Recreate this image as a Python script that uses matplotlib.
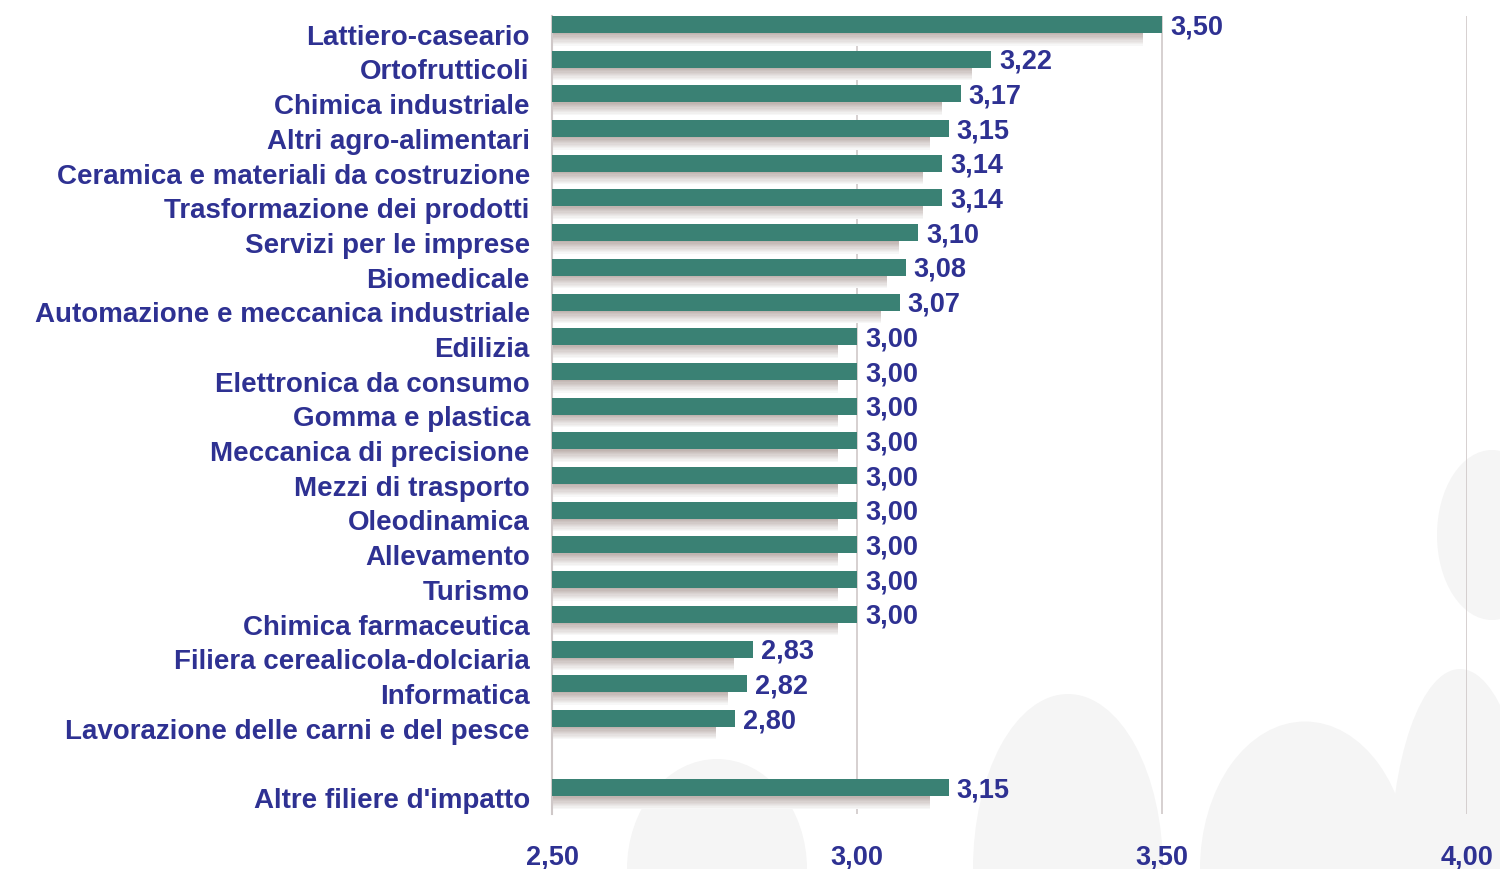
import matplotlib
matplotlib.use("Agg")
import matplotlib.pyplot as plt
from matplotlib.patches import Ellipse
import numpy as np

categories = [
    "Lattiero-caseario", "Ortofrutticoli", "Chimica industriale", "Altri agro-alimentari",
    "Ceramica e materiali da costruzione", "Trasformazione dei prodotti", "Servizi per le imprese",
    "Biomedicale", "Automazione e meccanica industriale", "Edilizia", "Elettronica da consumo",
    "Gomma e plastica", "Meccanica di precisione", "Mezzi di trasporto", "Oleodinamica",
    "Allevamento", "Turismo", "Chimica farmaceutica", "Filiera cerealicola-dolciaria",
    "Informatica", "Lavorazione delle carni e del pesce", "", "Altre filiere d'impatto",
]
values = [3.50, 3.22, 3.17, 3.15, 3.14, 3.14, 3.10, 3.08, 3.07, 3.00, 3.00,
          3.00, 3.00, 3.00, 3.00, 3.00, 3.00, 3.00, 2.83, 2.82, 2.80, None, 3.15]
value_labels = ["3,50", "3,22", "3,17", "3,15", "3,14", "3,14", "3,10", "3,08", "3,07",
                "3,00", "3,00", "3,00", "3,00", "3,00", "3,00", "3,00", "3,00", "3,00",
                "2,83", "2,82", "2,80", "", "3,15"]
xticks = [2.50, 3.00, 3.50, 4.00]
xtick_labels = ["2,50", "3,00", "3,50", "4,00"]

TEXT = "#2e3192"
BAR = "#3a8174"
GRID = "#cfc8c8"
FONT = "Liberation Sans"

W, H = 1500, 869
fig = plt.figure(figsize=(W / 100, H / 100), dpi=100)
fig.patch.set_facecolor("white")

# faint watermark shapes in the background
blobs = [(717, 869, 180, 220), (1068, 869, 190, 350), (1305, 869, 210, 295),
         (1460, 869, 140, 400), (1492, 535, 110, 170)]
for cx, cy, w, h in blobs:
    fig.add_artist(Ellipse((cx / W, 1 - cy / H), w / W, h / H, transform=fig.transFigure,
                           facecolor="#f5f5f5", edgecolor="none", zorder=0))

ax = fig.add_axes([552 / W, 1 - 814 / H, (1467 - 552) / W, (814 - 16) / H])
ax.patch.set_alpha(0)
ax.set_zorder(1)

n = len(categories)
ax.set_xlim(2.5, 4.0)
ax.set_ylim(n - 0.5, -0.5)

for xv in [3.0, 3.5, 4.0]:
    ax.axvline(xv, color=GRID, lw=1.2, zorder=1)

ys = np.arange(n)
shadow_top = np.array([0xc0, 0xb4, 0xb0]) / 255
nstrip = 10
shadow_h = 0.36
for i, v in enumerate(values):
    if v is None:
        continue
    # shadow gradient beneath the bar
    for k in range(nstrip):
        t = k / (nstrip - 1)
        col = shadow_top + (np.array([0.97, 0.97, 0.97]) - shadow_top) * t
        y0 = i - 0.01 + k * shadow_h / nstrip
        ax.barh(y0, (v - 0.031) - 2.5, left=2.5, height=shadow_h / nstrip + 0.002,
                align="edge", color=col, edgecolor="none", zorder=2)
    ax.barh(i - 0.5, v - 2.5, left=2.5, height=0.49, align="edge",
            color=BAR, edgecolor="none", zorder=3)
    ax.text(v + 0.013, i - 0.18, value_labels[i], ha="left", va="center",
            fontsize=19.5, fontweight="bold", color=TEXT, family=FONT, zorder=4)

for s in ["top", "right", "bottom"]:
    ax.spines[s].set_visible(False)
ax.spines["left"].set_color(GRID)
ax.spines["left"].set_linewidth(1.5)

ax.set_yticks(ys + 0.04)
ax.set_yticklabels(categories)
ax.tick_params(axis="y", length=0, pad=16)
for lab in ax.get_yticklabels():
    lab.set_fontsize(20)
    lab.set_fontweight("bold")
    lab.set_color(TEXT)
    lab.set_family(FONT)

ax.set_xticks(xticks)
ax.set_xticklabels(xtick_labels)
ax.tick_params(axis="x", length=0, pad=22)
for lab in ax.get_xticklabels():
    lab.set_fontsize(19.5)
    lab.set_fontweight("bold")
    lab.set_color(TEXT)
    lab.set_family(FONT)

fig.savefig("out.png", dpi=100, facecolor="white")
